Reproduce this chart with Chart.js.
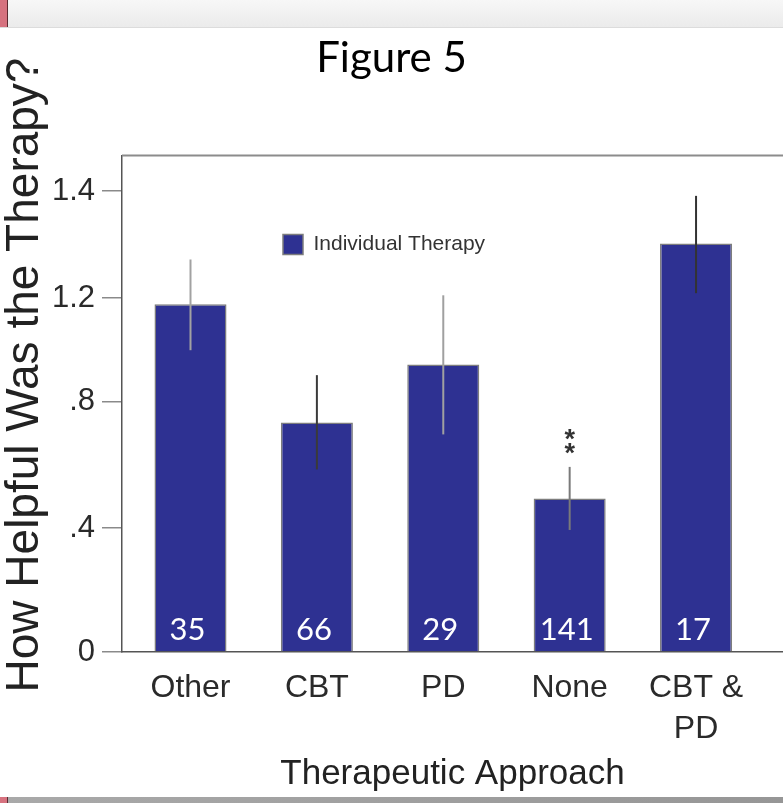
<!DOCTYPE html>
<html>
<head>
<meta charset="utf-8">
<script src="https://cdn.jsdelivr.net/npm/chart.js@4.4.1/dist/chart.umd.min.js"></script>
<style>
  html, body { margin: 0; padding: 0; background: #fff; width: 783px; height: 803px; overflow: hidden; }
  #wrap { position: relative; width: 783px; height: 803px; }
  .band-top { position: absolute; left: 0; top: 0; width: 783px; height: 27px;
              background: linear-gradient(#f7f7f7, #ebebeb); border-bottom: 1px solid #dcdcdc; }
  .band-bottom { position: absolute; left: 0; top: 797px; width: 783px; height: 6px;
                 background: linear-gradient(90deg, #a9a9a9, #969696); }
  .strip { position: absolute; left: 0; width: 7px; background: #d6727f; border-right: 1px solid #5c2a31; }
  canvas { position: absolute; left: 0; top: 0; }
</style>
</head>
<body>
<div id="wrap">
  <div class="band-top"></div>
  <div class="strip" style="top:0;height:27px"></div>
  <div class="band-bottom"></div>
  <div class="strip" style="top:797px;height:6px"></div>
  <canvas id="chart" width="783" height="803"></canvas>
</div>
<script>
// Mean helpfulness rating of individual therapy by therapeutic approach
const categories = ['Other', 'CBT', 'PD', 'None', 'CBT & PD'];
const meanHelpfulness = [1.176, 0.735, 0.944, 0.494, 1.302];
const errorLow = [0.999, 0.586, 0.697, 0.394, 1.209];
const errorHigh = [1.272, 0.903, 1.205, 0.594, 1.391];
const sampleSizes = [35, 66, 29, 141, 17];
const significance = ['', '', '', '**', ''];
const yTickValues = [0, 0.4, 0.8, 1.2, 1.4];
const yTickLabels = ['0', '.4', '.8', '1.2', '1.4'];

// The printed value axis is not evenly spaced: each labelled value sits at its own
// fraction of the axis height, and values between labels are interpolated.
const AXIS_BREAKS = {
  values:    [0, 0.4,    0.8,    1.2,    1.4,    1.467],
  fractions: [0, 0.2495, 0.5036, 0.7129, 0.9282, 1]
};

class SegmentedScale extends Chart.LinearScale {
  static id = 'segmented';
  static defaults = Chart.LinearScale.defaults;
  getPixelForValue(value) {
    const v = AXIS_BREAKS.values, f = AXIS_BREAKS.fractions;
    let i = 1;
    while (i < v.length - 1 && value > v[i]) i++;
    const t = (value - v[i - 1]) / (v[i] - v[i - 1]);
    return this.getPixelForDecimal(f[i - 1] + t * (f[i] - f[i - 1]));
  }
  getValueForPixel(pixel) {
    const d = this.getDecimalForPixel(pixel);
    const v = AXIS_BREAKS.values, f = AXIS_BREAKS.fractions;
    let i = 1;
    while (i < f.length - 1 && d > f[i]) i++;
    const t = (d - f[i - 1]) / (f[i] - f[i - 1]);
    return v[i - 1] + t * (v[i] - v[i - 1]);
  }
}
Chart.register(SegmentedScale);

const BAR_COLOR = '#2e3192';
const ERROR_COLORS = ['#a2a2a2', '#3a3a3a', '#a0a0a0', '#7a7a7a', '#333333'];
const SANS = '"Liberation Sans", Arial, sans-serif';

// Frame line along the top of the plot, running off the right edge
const framePlugin = {
  id: 'frame',
  beforeDatasetsDraw(chart) {
    const {ctx, chartArea} = chart;
    ctx.save();
    ctx.strokeStyle = '#8c8c8c';
    ctx.lineWidth = 2;
    ctx.beginPath();
    ctx.moveTo(chartArea.left, chartArea.top);
    ctx.lineTo(chart.width, chartArea.top);
    ctx.stroke();
    ctx.restore();
  }
};

// Legend sits inside the plot, left of centre
const legendPlacer = {
  id: 'legendPlacer',
  beforeDraw(chart) {
    const lg = chart.legend;
    if (!lg) return;
    const w = lg.width, h = lg.height;
    lg.left = 273; lg.top = 224;
    lg.right = lg.left + w; lg.bottom = lg.top + h;
  }
};

// Error bars, significance stars and group sizes
const annotations = {
  id: 'annotations',
  afterDatasetsDraw(chart) {
    const {ctx} = chart;
    const y = chart.scales.y;
    const bars = chart.getDatasetMeta(0).data;
    ctx.save();
    bars.forEach((bar, i) => {
      const top = y.getPixelForValue(errorHigh[i]);
      const bottom = y.getPixelForValue(errorLow[i]);
      ctx.strokeStyle = ERROR_COLORS[i];
      ctx.lineWidth = 2;
      ctx.beginPath();
      ctx.moveTo(bar.x, top);
      ctx.lineTo(bar.x, bottom);
      ctx.stroke();

      if (significance[i]) {
        ctx.fillStyle = '#333';
        ctx.font = 'bold 27px ' + SANS;
        ctx.textAlign = 'center';
        ctx.textBaseline = 'alphabetic';
        const stars = significance[i].split('');
        stars.forEach((s, k) => {
          ctx.fillText(s, bar.x, top - 5 - (stars.length - 1 - k) * 14);
        });
      }

      ctx.fillStyle = '#ffffff';
      ctx.font = '31px Lato, "Noto Sans", sans-serif';
      ctx.textAlign = 'center';
      ctx.textBaseline = 'alphabetic';
      ctx.fillText(String(sampleSizes[i]), bar.x - 3, y.getPixelForValue(0) - 12);
    });
    ctx.restore();
  }
};

// Rotated value-axis caption
const yCaption = {
  id: 'yCaption',
  afterDraw(chart) {
    const {ctx} = chart;
    ctx.save();
    ctx.translate(25, 375);
    ctx.rotate(-Math.PI / 2);
    ctx.fillStyle = '#222';
    ctx.font = '46px ' + SANS;
    ctx.textAlign = 'center';
    ctx.textBaseline = 'middle';
    ctx.fillText('How Helpful Was the Therapy?', 0, 0);
    ctx.restore();
  }
};

new Chart(document.getElementById('chart'), {
  type: 'bar',
  data: {
    datasets: [{
      label: 'Individual Therapy',
      data: categories.map((c, i) => ({x: i, y: meanHelpfulness[i]})),
      backgroundColor: BAR_COLOR,
      borderColor: '#7d7d7d',
      borderWidth: 1.5,
      borderSkipped: 'bottom',
      barPercentage: 0.57,
      categoryPercentage: 1
    }]
  },
  options: {
    responsive: false,
    devicePixelRatio: 1,
    animation: false,
    layout: {padding: {left: 0, right: 0, top: 0, bottom: 0}},
    plugins: {
      title: {
        display: true,
        text: 'Figure 5',
        color: '#000',
        font: {family: 'Lato, "Noto Sans", sans-serif', size: 42, weight: 'normal', lineHeight: 1.2},
        padding: {top: 33, bottom: 72}
      },
      legend: {
        position: 'chartArea',
        align: 'start',
        labels: {
          boxWidth: 20,
          boxHeight: 20,
          padding: 10,
          color: '#333',
          font: {family: SANS, size: 21}
        }
      },
      tooltip: {enabled: false}
    },
    scales: {
      x: {
        type: 'linear',
        min: -0.542,
        max: 4.688,
        offset: false,
        afterBuildTicks: (s) => { s.ticks = categories.map((c, i) => ({value: i})); },
        afterFit: (s) => { s.height = 151; },
        grid: {display: false},
        border: {display: true, color: '#555', width: 1.5},
        ticks: {
          color: '#2a2a2a',
          padding: 7,
          maxRotation: 0,
          autoSkip: false,
          font: {family: SANS, size: 32, lineHeight: 1.3},
          callback: (v, i) => {
            const name = categories[i];
            const parts = name.split(' & ');
            return parts.length > 1 ? [parts[0] + ' &', parts[1]] : name;
          }
        },
        title: {
          display: true,
          text: 'Therapeutic Approach',
          color: '#222',
          font: {family: SANS, size: 35, lineHeight: 1.2},
          padding: {top: 0, bottom: 8}
        }
      },
      y: {
        type: 'segmented',
        min: 0,
        max: 1.467,
        afterBuildTicks: (s) => { s.ticks = yTickValues.map(v => ({value: v})); },
        afterFit: (s) => { s.width = 122; },
        grid: {display: true, drawOnChartArea: false, drawTicks: true, tickLength: 20, color: '#8a8a8a', lineWidth: 1.5},
        border: {display: true, color: '#555', width: 1.5},
        ticks: {
          color: '#2a2a2a',
          padding: 7,
          font: {family: SANS, size: 31},
          callback: (v, i) => yTickLabels[i]
        }
      }
    }
  },
  plugins: [framePlugin, legendPlacer, annotations, yCaption]
});
</script>
</body>
</html>
